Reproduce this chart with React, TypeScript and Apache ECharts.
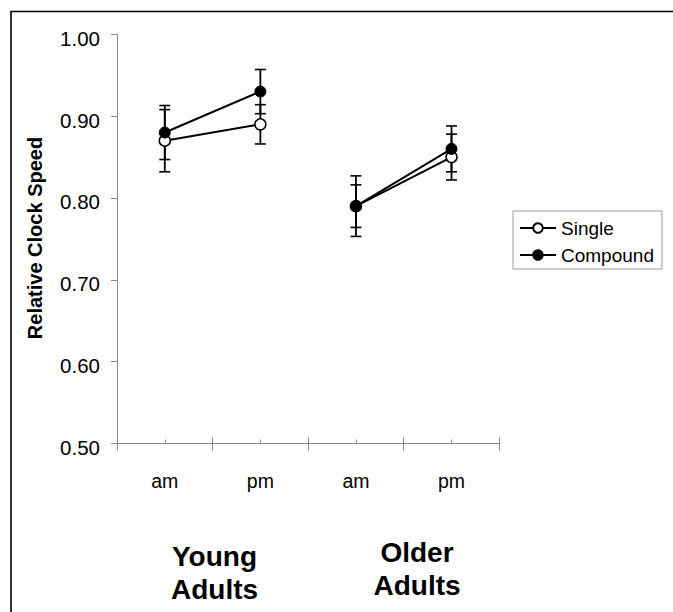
import React, { useEffect, useRef } from "react";
import * as echarts from "echarts";

const categories = ["am", "pm", "am", "pm"];
const groupNames = ["Young\nAdults", "Older\nAdults"];
const seriesNames = ["Single", "Compound"];
const singleValues = [0.87, 0.89, 0.79, 0.85];
const singleErrors = [0.038, 0.024, 0.037, 0.028];
const compoundValues = [0.88, 0.93, 0.79, 0.86];
const compoundErrors = [0.033, 0.027, 0.026, 0.028];
const yMin = 0.5;
const yMax = 1.0;
const yStep = 0.1;

const FONT = "'Liberation Sans', Arial, Helvetica, sans-serif";
const AXIS_GRAY = "#8a8a8a";

function splitGroup(values: number[], g: number): (number | string)[] {
  return values.map((v, i) => (Math.floor(i / 2) === g ? v : "-"));
}

function errData(values: number[], errs: number[]) {
  return values.map((v, i) => [i, v - errs[i], v + errs[i]]);
}

const errRender = (params: any, api: any) => {
  const x = api.value(0);
  const pLo = api.coord([x, api.value(1)]);
  const pHi = api.coord([x, api.value(2)]);
  const hw = 5.5;
  return {
    type: "group",
    children: [
      { type: "line", shape: { x1: pLo[0], y1: pLo[1], x2: pHi[0], y2: pHi[1] }, style: { stroke: "#000", lineWidth: 1.8 } },
      { type: "line", shape: { x1: pLo[0] - hw, y1: pLo[1], x2: pLo[0] + hw, y2: pLo[1] }, style: { stroke: "#000", lineWidth: 1.6 } },
      { type: "line", shape: { x1: pHi[0] - hw, y1: pHi[1], x2: pHi[0] + hw, y2: pHi[1] }, style: { stroke: "#000", lineWidth: 1.6 } },
    ],
  };
};

export default function App() {
  const ref = useRef<HTMLDivElement>(null);
  useEffect(() => {
    if (!ref.current) return;
    const chart = echarts.init(ref.current, null, { renderer: "svg" });

    const singleStyle = {
      symbol: "circle",
      symbolSize: 11,
      itemStyle: { color: "#fff", borderColor: "#000", borderWidth: 1.5 },
      lineStyle: { color: "#000", width: 2 },
    };
    const compoundStyle = {
      symbol: "circle",
      symbolSize: 11,
      itemStyle: { color: "#000", borderColor: "#000", borderWidth: 1 },
      lineStyle: { color: "#000", width: 2 },
    };

    const lineSeries: any[] = [];
    [0, 1].forEach((g) => {
      lineSeries.push({
        type: "line",
        name: seriesNames[0],
        data: splitGroup(singleValues, g),
        z: 3,
        ...singleStyle,
      });
    });
    [0, 1].forEach((g) => {
      lineSeries.push({
        type: "line",
        name: seriesNames[1],
        data: splitGroup(compoundValues, g),
        z: 4,
        ...compoundStyle,
      });
    });

    const option: any = {
      animation: false,
      grid: { left: 117, right: 173.7, top: 34.3, bottom: 168.5, containLabel: false },
      legend: {
        orient: "vertical",
        left: 513,
        top: 211,
        padding: [7, 8, 4, 6],
        itemWidth: 36,
        itemHeight: 12,
        itemGap: 7,
        borderColor: "#999",
        borderWidth: 1,
        textStyle: { fontSize: 19, color: "#000", fontFamily: FONT, lineHeight: 20 },
        data: seriesNames,
      },
      xAxis: [
        {
          type: "category",
          data: categories,
          boundaryGap: true,
          axisLine: { show: true, lineStyle: { color: AXIS_GRAY, width: 1 } },
          axisTick: { show: true, length: 7, interval: 0, lineStyle: { color: AXIS_GRAY } },
          axisLabel: { show: true, margin: 27, fontSize: 19.5, color: "#000", fontFamily: FONT, interval: 0 },
          splitLine: { show: false },
        },
        {
          type: "category",
          data: categories,
          boundaryGap: true,
          position: "bottom",
          axisLine: { show: false },
          axisTick: { show: true, inside: true, length: 6, interval: 0, lineStyle: { color: AXIS_GRAY } },
          axisLabel: { show: false },
          splitLine: { show: false },
        },
        {
          type: "category",
          data: categories,
          boundaryGap: true,
          position: "bottom",
          axisLine: { show: false },
          axisTick: { show: true, inside: true, length: 4, interval: 0, alignWithLabel: true, lineStyle: { color: AXIS_GRAY } },
          axisLabel: { show: false },
          splitLine: { show: false },
        },
      ],
      yAxis: {
        type: "value",
        min: yMin,
        max: yMax,
        interval: yStep,
        axisLine: { show: true, lineStyle: { color: AXIS_GRAY, width: 1 } },
        axisTick: { show: true, length: 6, lineStyle: { color: AXIS_GRAY } },
        axisLabel: {
          margin: 17,
          fontSize: 20.5,
          color: "#000",
          fontFamily: FONT,
          verticalAlign: "top",
          lineHeight: 20,
          padding: [-6, 0, 0, 0],
          formatter: (v: number) => v.toFixed(2),
        },
        splitLine: { show: false },
      },
      series: [
        {
          type: "custom",
          name: "errSingle",
          renderItem: errRender,
          data: errData(singleValues, singleErrors),
          encode: { x: 0, y: [1, 2] },
          z: 1,
        },
        {
          type: "custom",
          name: "errCompound",
          renderItem: errRender,
          data: errData(compoundValues, compoundErrors),
          encode: { x: 0, y: [1, 2] },
          z: 1,
        },
        ...lineSeries,
      ],
      graphic: [
        {
          type: "polyline",
          shape: { points: [[11, 612], [11, 11.5], [673, 11.5]] },
          style: { stroke: "#000", lineWidth: 1.6, fill: null },
          silent: true,
        },
        {
          type: "text",
          x: 35,
          y: 238,
          rotation: Math.PI / 2,
          style: {
            text: "Relative Clock Speed",
            fontSize: 20,
            fontWeight: "bold",
            fontFamily: FONT,
            fill: "#000",
            align: "center",
            verticalAlign: "middle",
          },
        },
        {
          type: "text",
          x: 214.5,
          y: 540,
          style: {
            text: groupNames[0],
            fontSize: 28,
            lineHeight: 33,
            fontWeight: "bold",
            fontFamily: FONT,
            fill: "#000",
            align: "center",
            verticalAlign: "top",
          },
        },
        {
          type: "text",
          x: 417,
          y: 536,
          style: {
            text: groupNames[1],
            fontSize: 28,
            lineHeight: 33,
            fontWeight: "bold",
            fontFamily: FONT,
            fill: "#000",
            align: "center",
            verticalAlign: "top",
          },
        },
      ],
    };
    chart.setOption(option);
    return () => chart.dispose();
  }, []);
  return (
    <div
      ref={ref}
      style={{ position: "fixed", left: 0, top: 0, width: 673, height: 612, background: "#fff" }}
    />
  );
}
